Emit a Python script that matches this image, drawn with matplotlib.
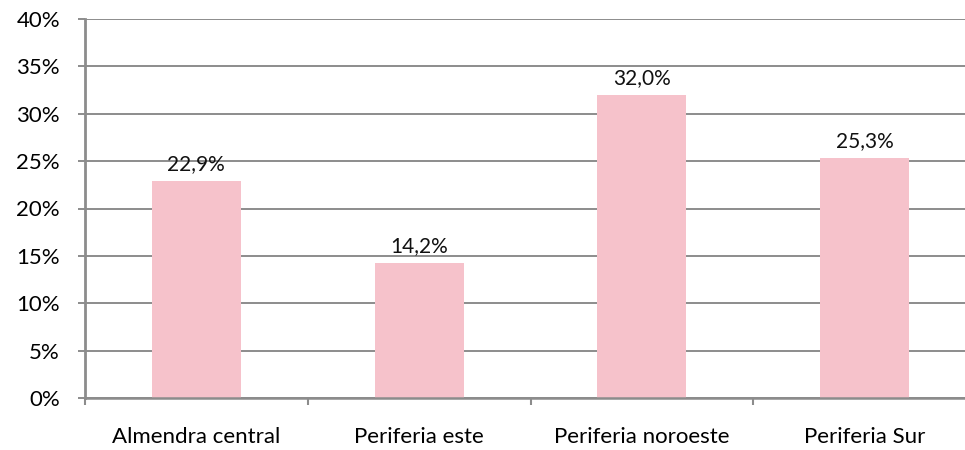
import matplotlib
matplotlib.use("Agg")
import matplotlib.pyplot as plt
from matplotlib.ticker import FixedLocator, MultipleLocator, FuncFormatter

categories = ["Almendra central", "Periferia este", "Periferia noroeste", "Periferia Sur"]
values = [22.9, 14.2, 32.0, 25.3]
value_labels = ["22,9%", "14,2%", "32,0%", "25,3%"]

plt.rcParams["font.family"] = ["Lato", "DejaVu Sans"]

fig = plt.figure(figsize=(9.65, 4.5), dpi=100)
ax = fig.add_axes([85 / 965, 52 / 450, (976 - 85) / 965, (398 - 19) / 450])

x = list(range(len(categories)))
bars = ax.bar(x, values, width=0.4, color="#F6C2CB", zorder=2)

for b, v, lab in zip(bars, values, value_labels):
    ax.annotate(lab, (b.get_x() + b.get_width() / 2, v), xytext=(0, 5),
                textcoords="offset points", ha="center", va="bottom",
                fontsize=15, color="#111111")

ax.set_xlim(-0.5, len(categories) - 0.5)
ax.set_ylim(0, 40)
ax.yaxis.set_major_locator(MultipleLocator(5))
ax.yaxis.set_major_formatter(FuncFormatter(lambda v, p: f"{v:.0f}%"))
ax.grid(axis="y", color="#8c8c8c", linewidth=1.4, zorder=0)

ax.set_xticks(x)
ax.set_xticklabels(categories)
ax.xaxis.set_minor_locator(FixedLocator([i + 0.5 for i in range(len(categories) - 1)] + [-0.5]))
ax.tick_params(axis="x", which="major", length=0, pad=21, labelsize=16)
ax.tick_params(axis="x", which="minor", length=5, width=1.5, color="#8c8c8c", direction="out")
ax.tick_params(axis="y", length=5, width=1.4, color="#8c8c8c", labelsize=16, pad=13)

for side in ("top", "right"):
    ax.spines[side].set_visible(False)
ax.spines["left"].set_color("#8c8c8c")
ax.spines["left"].set_linewidth(2)
ax.spines["bottom"].set_color("#8c8c8c")
ax.spines["bottom"].set_linewidth(1.8)

fig.savefig("out.png", dpi=100)
